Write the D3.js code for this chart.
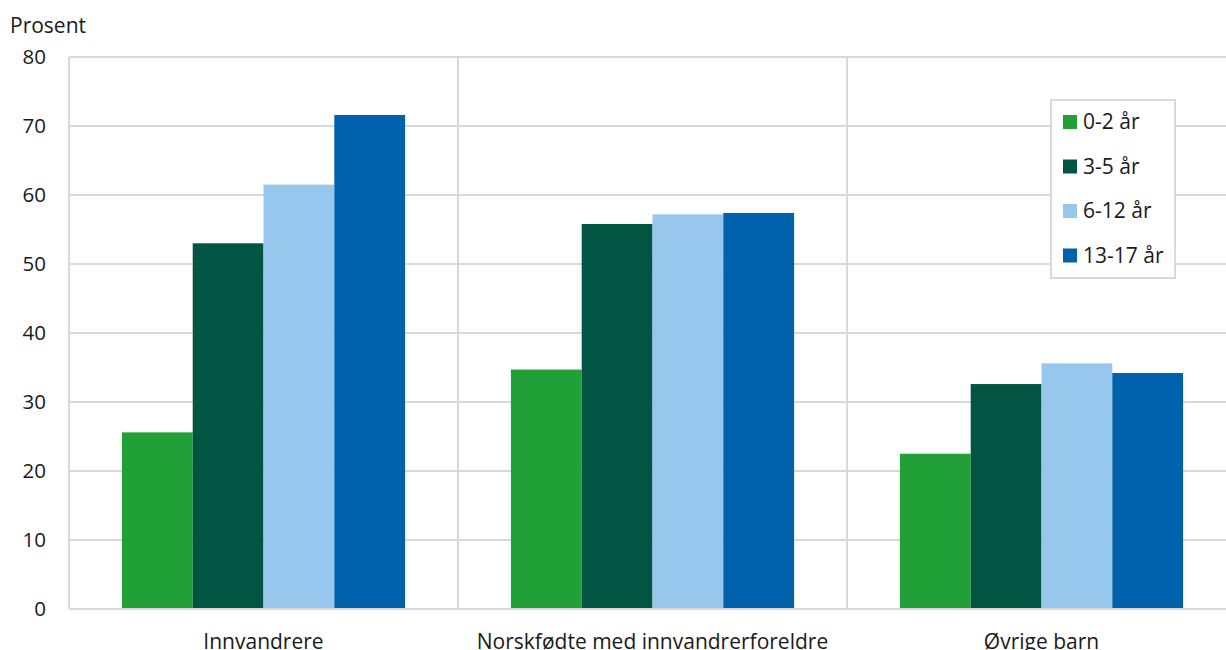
<!DOCTYPE html>
<html><head><meta charset="utf-8">
<script src="https://cdn.jsdelivr.net/npm/d3@7"></script>
<style>body{margin:0;background:#fff}svg{display:block;font-family:"Open Sans",sans-serif}</style>
</head><body><svg id="c" width="1226" height="650"></svg>
<script>
const categories = ["Innvandrere", "Norskfødte med innvandrerforeldre", "Øvrige barn"];
const seriesNames = ["0-2 år", "3-5 år", "6-12 år", "13-17 år"];
const s0_2 = [25.6, 34.7, 22.5];
const s3_5 = [53.0, 55.8, 32.6];
const s6_12 = [61.5, 57.2, 35.6];
const s13_17 = [71.6, 57.4, 34.2];
const yTicks = [0, 10, 20, 30, 40, 50, 60, 70, 80];
const colors = ["#21a038", "#025443", "#97c7ec", "#0062ad"];

(function () {
const series = [s0_2, s3_5, s6_12, s13_17];
const svg = d3.select("#c");
const pL = 69, pR = 1236, pT = 57, pB = 609;
const y = d3.scaleLinear().domain([0, 80]).range([pB, pT]);
const x0 = d3.scaleBand().domain(categories).range([pL, pR]).padding(0);
const bw = x0.bandwidth();
const gap = bw * 0.136;
const x1 = d3.scaleBand().domain(seriesNames).range([gap, bw - gap]).padding(0);
const grid = "#d9d9d9";
const txt = "#1a1a1a";

svg.append("g").selectAll("line").data(yTicks.filter(d => d > 0)).join("line")
  .attr("x1", pL).attr("x2", 1226).attr("y1", d => y(d)).attr("y2", d => y(d))
  .attr("stroke", grid).attr("stroke-width", 2);
svg.append("g").selectAll("line").data(categories).join("line")
  .attr("x1", d => x0(d)).attr("x2", d => x0(d)).attr("y1", pT).attr("y2", pB)
  .attr("stroke", grid).attr("stroke-width", 2);

categories.forEach((c, ci) => {
  seriesNames.forEach((s, si) => {
    svg.append("rect")
      .attr("x", x0(c) + x1(s)).attr("width", x1.bandwidth())
      .attr("y", y(series[si][ci])).attr("height", pB - y(series[si][ci]))
      .attr("fill", colors[si]);
  });
});

svg.append("line").attr("x1", pL).attr("x2", 1226).attr("y1", pB).attr("y2", pB)
  .attr("stroke", grid).attr("stroke-width", 2);

const yAxis = d3.axisLeft(y).tickValues(yTicks).tickSize(0).tickPadding(0);
const ga = svg.append("g").attr("transform", "translate(46,0)").call(yAxis);
ga.select(".domain").remove();
ga.selectAll("text").attr("font-size", 20.5).attr("fill", txt).attr("font-family", "Open Sans");

svg.append("g").selectAll("text").data(categories).join("text")
  .attr("x", d => x0(d) + bw / 2).attr("y", 649).attr("text-anchor", "middle")
  .attr("font-size", 21).attr("fill", txt).text(d => d);

svg.append("text").attr("x", 10).attr("y", 33).attr("font-size", 21).attr("fill", txt).text("Prosent");

const lg = svg.append("g");
lg.append("rect").attr("x", 1051).attr("y", 100).attr("width", 124).attr("height", 178)
  .attr("fill", "#fff").attr("stroke", grid).attr("stroke-width", 2);
seriesNames.forEach((s, i) => {
  const cy = 122 + i * 44.5;
  lg.append("rect").attr("x", 1063).attr("y", cy - 7).attr("width", 14).attr("height", 14).attr("fill", colors[i]);
  lg.append("text").attr("x", 1083).attr("y", cy + 7).attr("font-size", 21).attr("fill", txt).text(s);
});
})();
</script></body></html>
